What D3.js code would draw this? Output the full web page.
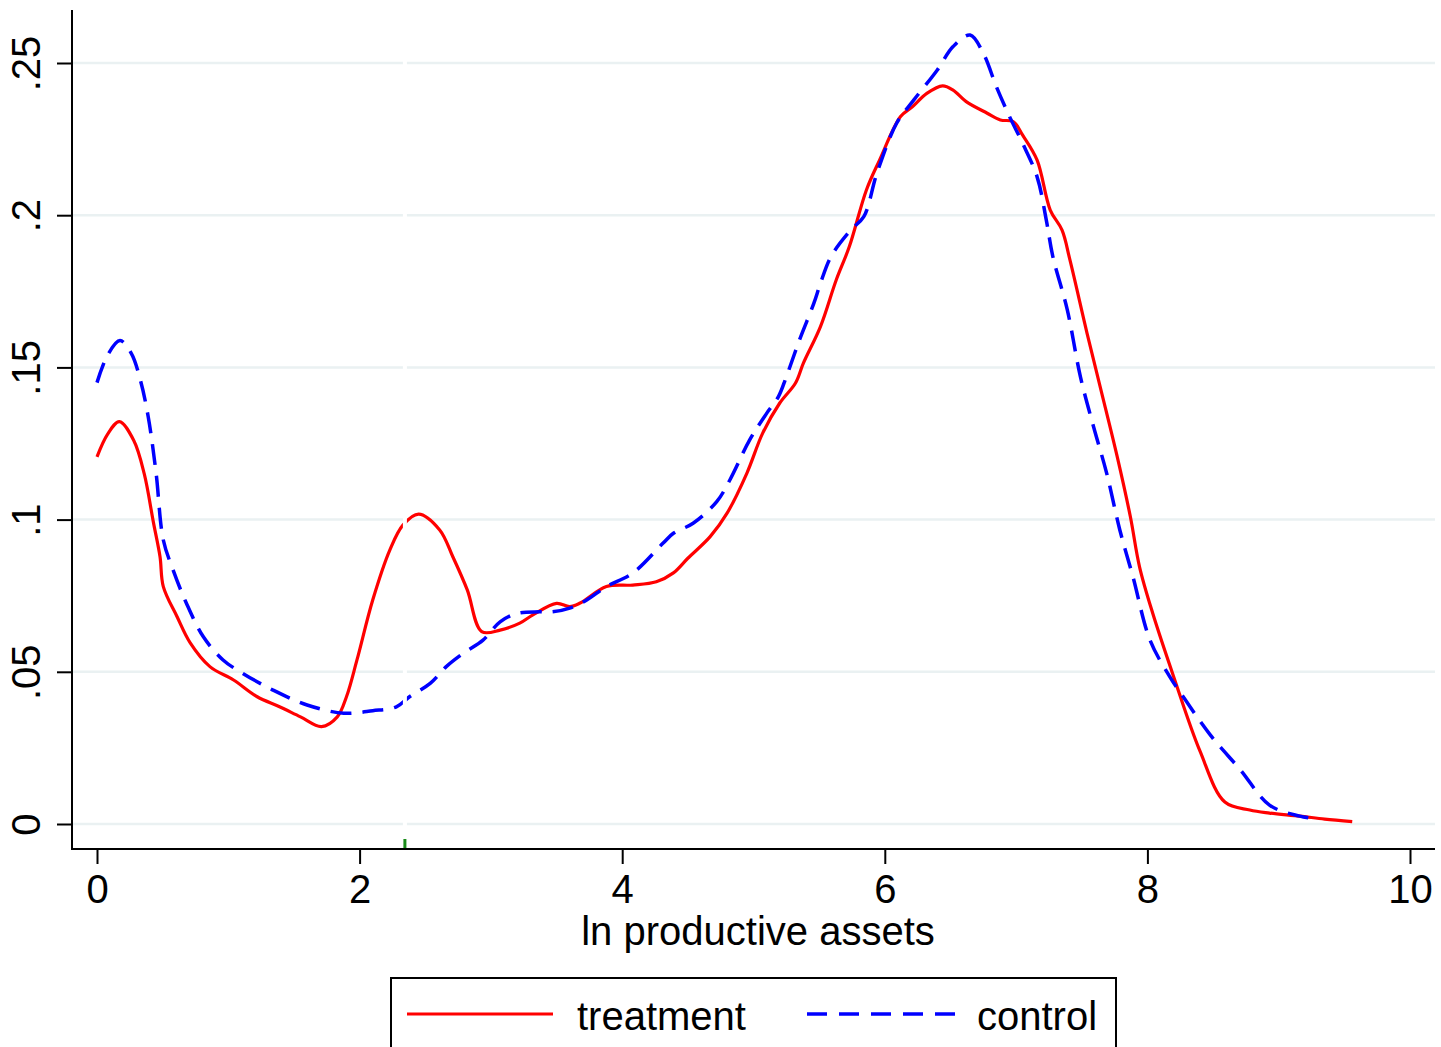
<!DOCTYPE html>
<html>
<head>
<meta charset="utf-8">
<script src="https://cdn.jsdelivr.net/npm/d3@7"></script>
<style>
  body { margin: 0; background: #fff; }
  svg { display: block; font-family: "Liberation Sans", Arial, sans-serif; }
</style>
</head>
<body>
<svg class="svg" width="1441" height="1047"></svg>
<script>
// treatment density (x, density)
const treatX = [0.00, 0.08, 0.17, 0.28, 0.36, 0.43, 0.48, 0.505, 0.61, 0.71, 0.86, 1.04, 1.22, 1.39, 1.55, 1.71, 1.83, 1.90, 1.98, 2.10, 2.23, 2.33, 2.45, 2.61, 2.71, 2.82, 2.93, 3.07, 3.22, 3.32, 3.50, 3.60, 3.68, 3.88, 4.08, 4.26, 4.39, 4.50, 4.67, 4.80, 4.95, 5.07, 5.20, 5.32, 5.38, 5.51, 5.63, 5.73, 5.86, 5.96, 6.12, 6.21, 6.32, 6.44, 6.52, 6.62, 6.78, 6.88, 6.98, 7.05, 7.16, 7.26, 7.35, 7.41, 7.54, 7.64, 7.77, 7.87, 7.94, 8.04, 8.20, 8.40, 8.59, 8.78, 8.93, 9.16, 9.35, 9.56];
const treatY = [0.1206, 0.1280, 0.1322, 0.1260, 0.1150, 0.0990, 0.0878, 0.0780, 0.0681, 0.0595, 0.0517, 0.0473, 0.0418, 0.0385, 0.0352, 0.0320, 0.0352, 0.0418, 0.0539, 0.0736, 0.0900, 0.0982, 0.1018, 0.0966, 0.0878, 0.0769, 0.0632, 0.0637, 0.0660, 0.0687, 0.0725, 0.0714, 0.0726, 0.0780, 0.0785, 0.0796, 0.0825, 0.0873, 0.0944, 0.1022, 0.1153, 0.1284, 0.1383, 0.1449, 0.1514, 0.1634, 0.1787, 0.1897, 0.2083, 0.2181, 0.2324, 0.2356, 0.2400, 0.2425, 0.2411, 0.2373, 0.2335, 0.2313, 0.2307, 0.2263, 0.2181, 0.2017, 0.1951, 0.1853, 0.1613, 0.1437, 0.1207, 0.1010, 0.0845, 0.0693, 0.0484, 0.0240, 0.0072, 0.0046, 0.0036, 0.0026, 0.0016, 0.0008];

// control density (x, density)
const ctrlX = [0.00, 0.08, 0.175, 0.26, 0.33, 0.39, 0.45, 0.505, 0.58, 0.68, 0.81, 0.96, 1.11, 1.34, 1.60, 1.88, 2.10, 2.28, 2.38, 2.54, 2.66, 2.79, 2.94, 3.07, 3.20, 3.37, 3.47, 3.60, 3.73, 3.88, 4.08, 4.31, 4.39, 4.54, 4.72, 4.82, 4.97, 5.10, 5.19, 5.25, 5.35, 5.46, 5.51, 5.59, 5.74, 5.84, 5.94, 6.09, 6.22, 6.40, 6.52, 6.65, 6.75, 6.85, 6.95, 7.05, 7.16, 7.23, 7.28, 7.39, 7.49, 7.59, 7.69, 7.79, 7.89, 8.02, 8.17, 8.29, 8.48, 8.71, 8.93, 9.16, 9.30];
const ctrlY = [0.1450, 0.1540, 0.1588, 0.1547, 0.1459, 0.1338, 0.1153, 0.0933, 0.0834, 0.0726, 0.0615, 0.0539, 0.0495, 0.0440, 0.0391, 0.0364, 0.0372, 0.0385, 0.0418, 0.0463, 0.0517, 0.0561, 0.0604, 0.0664, 0.0692, 0.0697, 0.0697, 0.0709, 0.0736, 0.0780, 0.0824, 0.0922, 0.0955, 0.0988, 0.1059, 0.1130, 0.1261, 0.1349, 0.1404, 0.1469, 0.1590, 0.1711, 0.1776, 0.1864, 0.1951, 0.1995, 0.2138, 0.2302, 0.2378, 0.2477, 0.2554, 0.2592, 0.2532, 0.2422, 0.2324, 0.2236, 0.2126, 0.1984, 0.1864, 0.1689, 0.1469, 0.1305, 0.1152, 0.0966, 0.0812, 0.0604, 0.0484, 0.0407, 0.0292, 0.0177, 0.0062, 0.0026, 0.0016];

const xTicks = [0, 2, 4, 6, 8, 10];
const yTicks = [0, 0.05, 0.1, 0.15, 0.2, 0.25];
const yTickLabels = ['0', '.05', '.1', '.15', '.2', '.25'];
const xLineAt = 2.345;
const legendItems = ['treatment', 'control'];

const svg = d3.select('.svg');

const plotLeft = 72, plotRight = 1435, plotTop = 10, axisY = 849;
const fontSize = 40;

const x = d3.scaleLinear().domain([0, 10]).range([97, 1410]);
const y = d3.scaleLinear().domain([0, 0.25]).range([824, 63]);

// grid
svg.append('g')
  .selectAll('line')
  .data(yTicks)
  .join('line')
  .attr('x1', plotLeft + 1)
  .attr('x2', plotRight)
  .attr('y1', d => y(d))
  .attr('y2', d => y(d))
  .attr('stroke', '#eaf1f2')
  .attr('stroke-width', 2.5);

// curves
const line = d3.line()
  .x(d => x(d[0]))
  .y(d => y(d[1]))
  .curve(d3.curveCatmullRom.alpha(0.5));

const treat = treatX.map((v, i) => [v, treatY[i]]);
const ctrl = ctrlX.map((v, i) => [v, ctrlY[i]]);

svg.append('path')
  .attr('d', line(treat))
  .attr('fill', 'none')
  .attr('stroke', '#ff0000')
  .attr('stroke-width', 3.2);

svg.append('path')
  .attr('d', line(ctrl))
  .attr('fill', 'none')
  .attr('stroke', '#0000ff')
  .attr('stroke-width', 3.5)
  .attr('stroke-dasharray', '21,11');

// white xline + green tick
svg.append('line')
  .attr('x1', x(xLineAt)).attr('x2', x(xLineAt))
  .attr('y1', plotTop).attr('y2', axisY - 11)
  .attr('stroke', '#fff')
  .attr('stroke-width', 4);

svg.append('rect')
  .attr('x', x(xLineAt) - 1.5)
  .attr('y', axisY - 10)
  .attr('width', 3)
  .attr('height', 10)
  .attr('fill', '#1a8c1a');

// y axis
const yAxis = svg.append('g')
  .attr('transform', `translate(${plotLeft},0)`)
  .call(d3.axisLeft(y).tickValues(yTicks).tickFormat((d, i) => yTickLabels[i]).tickSize(15).tickSizeOuter(0));
yAxis.select('.domain').remove();
yAxis.selectAll('.tick line').attr('stroke', '#000').attr('stroke-width', 2);
yAxis.selectAll('.tick text')
  .attr('x', null).attr('dy', null)
  .attr('transform', 'translate(-32,0) rotate(-90)')
  .attr('text-anchor', 'middle')
  .attr('font-size', fontSize)
  .attr('fill', '#000');

svg.append('line')
  .attr('x1', plotLeft).attr('x2', plotLeft)
  .attr('y1', plotTop).attr('y2', axisY + 1)
  .attr('stroke', '#000').attr('stroke-width', 2);

// x axis
const xAxis = svg.append('g')
  .attr('transform', `translate(0,${axisY})`)
  .call(d3.axisBottom(x).tickValues(xTicks).tickFormat(d3.format('d')).tickSize(15).tickSizeOuter(0));
xAxis.select('.domain').remove();
xAxis.selectAll('.tick line').attr('stroke', '#000').attr('stroke-width', 2);
xAxis.selectAll('.tick text')
  .attr('y', 54).attr('dy', null)
  .attr('font-size', fontSize)
  .attr('fill', '#000');

svg.append('line')
  .attr('x1', plotLeft - 1).attr('x2', plotRight)
  .attr('y1', axisY).attr('y2', axisY)
  .attr('stroke', '#000').attr('stroke-width', 2);

svg.append('text')
  .attr('x', 758)
  .attr('y', 945)
  .attr('text-anchor', 'middle')
  .attr('font-size', fontSize)
  .text('ln productive assets');

// legend
const lg = svg.append('g');
lg.append('rect')
  .attr('x', 391).attr('y', 978)
  .attr('width', 725).attr('height', 90)
  .attr('fill', '#fff')
  .attr('stroke', '#000')
  .attr('stroke-width', 2);

lg.append('line')
  .attr('x1', 407).attr('x2', 553)
  .attr('y1', 1014).attr('y2', 1014)
  .attr('stroke', '#ff0000').attr('stroke-width', 3.2);
lg.append('line')
  .attr('x1', 807).attr('x2', 955)
  .attr('y1', 1014).attr('y2', 1014)
  .attr('stroke', '#0000ff').attr('stroke-width', 3.5)
  .attr('stroke-dasharray', '20,12');

lg.selectAll('text.lab')
  .data(legendItems)
  .join('text')
  .attr('class', 'lab')
  .attr('x', (d, i) => i === 0 ? 577 : 977)
  .attr('y', 1030)
  .attr('font-size', fontSize)
  .text(d => d);
</script>
</body>
</html>
